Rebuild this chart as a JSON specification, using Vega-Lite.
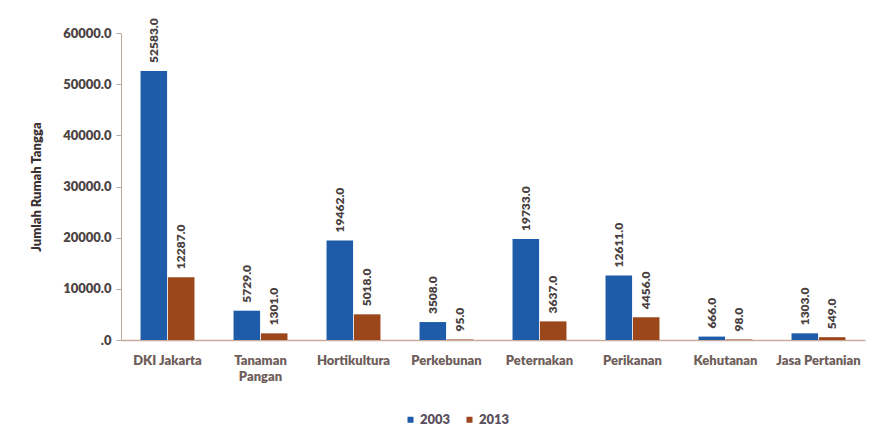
{
  "$schema": "https://vega.github.io/schema/vega-lite/v6.json",
  "autosize": {"type": "none"},
  "width": 744,
  "height": 307,
  "padding": {"left": 121, "top": 33, "right": 24, "bottom": 107},
  "background": "#ffffff",
  "config": {
    "view": {"stroke": null},
    "font": "Lato",
    "axis": {"labelFont": "Lato", "titleFont": "Lato"}
  },
  "data": {
    "values": [
      {"kategori": "DKI Jakarta", "tahun": "2003", "nilai": 52583},
      {"kategori": "DKI Jakarta", "tahun": "2013", "nilai": 12287},
      {"kategori": "Tanaman Pangan", "tahun": "2003", "nilai": 5729},
      {"kategori": "Tanaman Pangan", "tahun": "2013", "nilai": 1301},
      {"kategori": "Hortikultura", "tahun": "2003", "nilai": 19462},
      {"kategori": "Hortikultura", "tahun": "2013", "nilai": 5018},
      {"kategori": "Perkebunan", "tahun": "2003", "nilai": 3508},
      {"kategori": "Perkebunan", "tahun": "2013", "nilai": 95},
      {"kategori": "Peternakan", "tahun": "2003", "nilai": 19733},
      {"kategori": "Peternakan", "tahun": "2013", "nilai": 3637},
      {"kategori": "Perikanan", "tahun": "2003", "nilai": 12611},
      {"kategori": "Perikanan", "tahun": "2013", "nilai": 4456},
      {"kategori": "Kehutanan", "tahun": "2003", "nilai": 666},
      {"kategori": "Kehutanan", "tahun": "2013", "nilai": 98},
      {"kategori": "Jasa Pertanian", "tahun": "2003", "nilai": 1303},
      {"kategori": "Jasa Pertanian", "tahun": "2013", "nilai": 549}
    ]
  },
  "encoding": {
    "x": {
      "field": "kategori",
      "type": "nominal",
      "sort": null,
      "scale": {"paddingInner": 0.42, "paddingOuter": 0.21},
      "axis": {
        "title": null,
        "labelAngle": 0,
        "ticks": false,
        "domainColor": "#c9ab9c",
        "domainWidth": 1.5,
        "labelPadding": 14,
        "labelFontSize": 13,
        "labelFontWeight": 800,
        "labelColor": "#6e5e5a",
        "labelExpr": "datum.value == 'Tanaman Pangan' ? ['Tanaman', 'Pangan'] : datum.value",
        "labelLineHeight": 16
      }
    },
    "xOffset": {"field": "tahun", "type": "nominal", "scale": {"paddingInner": 0.03}},
    "y": {
      "field": "nilai",
      "type": "quantitative",
      "scale": {"domain": [0, 60000]},
      "axis": {
        "title": "Jumlah Rumah Tangga",
        "titleFontSize": 13,
        "titleFontWeight": 800,
        "titleColor": "#3a3030",
        "titleX": -78,
        "grid": false,
        "values": [0, 10000, 20000, 30000, 40000, 50000, 60000],
        "labelOverlap": false,
        "domainColor": "#b9a69c",
        "tickColor": "#b9a69c",
        "tickSize": 5,
        "labelPadding": 5,
        "labelFontSize": 13,
        "labelFontWeight": 800,
        "labelColor": "#4d4444",
        "labelExpr": "datum.value == 0 ? '.0' : format(datum.value, '.1f')"
      }
    }
  },
  "layer": [
    {
      "mark": {"type": "bar"},
      "encoding": {
        "color": {
          "field": "tahun",
          "type": "nominal",
          "scale": {"domain": ["2003", "2013"], "range": ["#1e5ba8", "#9c461c"]},
          "legend": {
            "title": null,
            "orient": "none",
            "direction": "horizontal",
            "legendX": 283,
            "legendY": 380,
            "symbolType": "square",
            "symbolSize": 36,
            "labelFontSize": 13,
            "labelFontWeight": 800,
            "labelColor": "#5a5060",
            "labelOffset": 3,
            "columnPadding": 12
          }
        }
      }
    },
    {
      "mark": {
        "type": "text",
        "angle": -90,
        "align": "left",
        "baseline": "middle",
        "dx": 8,
        "fontSize": 12,
        "fontWeight": 800,
        "color": "#4a3f3f"
      },
      "encoding": {
        "text": {"field": "nilai", "type": "quantitative", "format": ".1f"}
      }
    }
  ]
}
